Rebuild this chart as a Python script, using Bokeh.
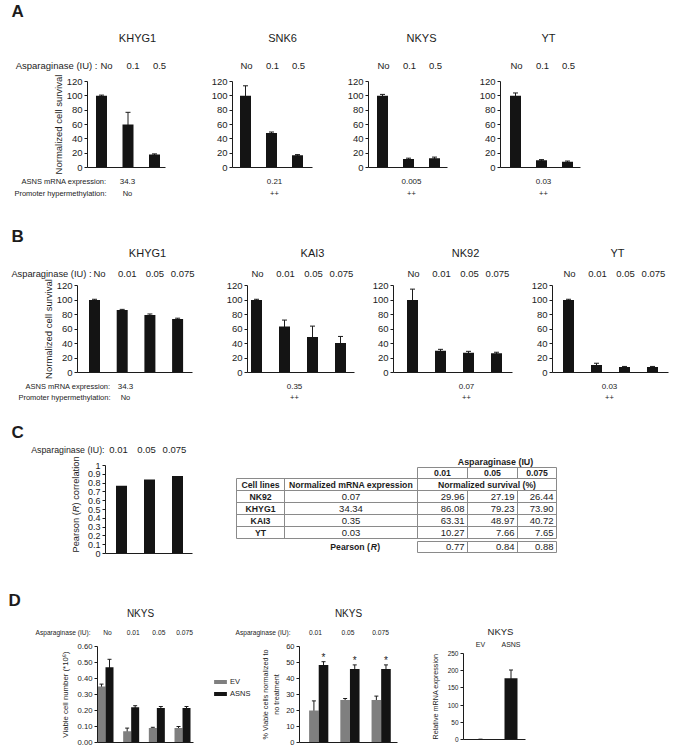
from math import pi
from bokeh.plotting import figure
from bokeh.layouts import row, column
from bokeh.models import (Range1d, LinearAxis, FixedTicker, Whisker, TeeHead,
                          ColumnDataSource, NumeralTickFormatter, Legend, LegendItem)
from bokeh.core.properties import value
from bokeh.embed import file_html
from bokeh.resources import INLINE

# ---------------- data ----------------
doses_A = ["No", "0.1", "0.5"]
titles_A = ["KHYG1", "SNK6", "NKYS", "YT"]
surv_A_khyg1 = [100, 60, 18]
surv_A_snk6 = [100, 48, 17]
surv_A_nkys = [100, 12, 13]
surv_A_yt = [100, 10, 8]
err_A_khyg1 = [1, 17, 1]
err_A_snk6 = [14, 1.5, 1]
err_A_nkys = [2, 1, 1.5]
err_A_yt = [4, 1, 1]
asns_A = ["34.3", "0.21", "0.005", "0.03"]
meth_A = ["No", "++", "++", "++"]

doses_B = ["No", "0.01", "0.05", "0.075"]
titles_B = ["KHYG1", "KAI3", "NK92", "YT"]
surv_B_khyg1 = [100, 86.08, 79.23, 73.90]
surv_B_kai3 = [100, 63.31, 48.97, 40.72]
surv_B_nk92 = [100, 29.96, 27.19, 26.44]
surv_B_yt = [100, 10.27, 7.66, 7.65]
err_B_khyg1 = [1, 1, 1.5, 1]
err_B_kai3 = [1, 9, 15, 9]
err_B_nk92 = [15, 2, 2, 1.5]
err_B_yt = [1, 2.5, 0.7, 0.7]
asns_B = ["34.3", "0.35", "0.07", "0.03"]
meth_B = ["No", "++", "++", "++"]
surv_ticks = [0, 20, 40, 60, 80, 100, 120]

doses_C = ["0.01", "0.05", "0.075"]
pearson_r = [0.77, 0.84, 0.88]
pearson_ticks = [0, 0.1, 0.2, 0.3, 0.4, 0.5, 0.6, 0.7, 0.8, 0.9, 1.0]

tbl_cells = ["NK92", "KHYG1", "KAI3", "YT"]
tbl_mrna = ["0.07", "34.34", "0.35", "0.03"]
tbl_s001 = ["29.96", "86.08", "63.31", "10.27"]
tbl_s005 = ["27.19", "79.23", "48.97", "7.66"]
tbl_s0075 = ["26.44", "73.90", "40.72", "7.65"]
tbl_pearson = ["0.77", "0.84", "0.88"]

doses_D1 = ["No", "0.01", "0.05", "0.075"]
ev_count = [0.35, 0.07, 0.09, 0.09]
ev_count_err = [0.015, 0.02, 0.005, 0.01]
asns_count = [0.47, 0.22, 0.215, 0.215]
asns_count_err = [0.05, 0.01, 0.01, 0.01]
count_ticks = [0.0, 0.1, 0.2, 0.3, 0.4, 0.5, 0.6]

doses_D2 = ["0.01", "0.05", "0.075"]
ev_pct = [20, 26.5, 26.5]
ev_pct_err = [6, 1, 2.5]
asns_pct = [48.5, 46, 46]
asns_pct_err = [2, 2.5, 2.5]
sig_D2 = ["*", "*", "*"]
pct_ticks = [0, 10, 20, 30, 40, 50, 60]

groups_D3 = ["EV", "ASNS"]
rel_mrna = [0.5, 178]
rel_mrna_err = [0, 24]
mrna_ticks = [0, 50, 100, 150, 200, 250]

# ---------------- styling / helpers ----------------
FONT = "Liberation Sans"
TXT = "#1c1c1c"
AXC = "#1c1c1c"
BLACK = "#141414"
GRAY = "#7f7f7f"
TOTAL_W = 672


def mkfig(box, frame, xlim, ylim):
    x0, y0, x1, y1 = box
    fx0, fy0, fx1, fy1 = frame
    p = figure(width=x1 - x0, height=y1 - y0,
               min_border_left=fx0 - x0, min_border_right=x1 - fx1,
               min_border_top=fy0 - y0, min_border_bottom=y1 - fy1,
               x_range=Range1d(*xlim), y_range=Range1d(*ylim),
               x_axis_location=None, y_axis_location=None, title_location=None,
               output_backend="svg", toolbar_location=None)
    p.outline_line_color = None
    p.background_fill_color = "white"
    p.border_fill_color = "white"
    p.grid.grid_line_color = None
    return p


def strip(x0, y0, x1, y1):
    """A text-only figure whose data coordinates are page pixels."""
    return mkfig((x0, y0, x1, y1), (x0, y0, x1, y1), (x0, x1), (y1, y0))


def txt(p, xs, ys, texts, size, align="center", style="normal", angle=0.0):
    p.text(x=list(xs), y=list(ys), text=list(texts), text_font=value(FONT),
           text_font_size=value(f"{size}px"), text_font_style=style, text_align=align,
           text_baseline="middle", text_color=TXT, angle=angle)


def bar_fig(box, frame, c0, step, ylim):
    fl = frame[0]
    fr = frame[2]
    return mkfig(box, frame, ((fl - c0) / step, (fr - c0) / step), ylim)


def yaxis(p, ticks, size, label=None, label_size=9.5, standoff=0, fmt=None, bounds=None):
    ax = LinearAxis(ticker=FixedTicker(ticks=ticks))
    ax.major_tick_in = 0
    ax.major_tick_out = 3
    ax.minor_tick_line_color = None
    ax.major_label_standoff = 2
    ax.major_label_text_font = FONT
    ax.major_label_text_font_size = f"{size}px"
    ax.major_label_text_color = TXT
    ax.axis_line_color = AXC
    ax.major_tick_line_color = AXC
    if bounds is not None:
        ax.bounds = bounds
    if label is not None:
        ax.axis_label = label
        ax.axis_label_text_font = FONT
        ax.axis_label_text_font_style = "normal"
        ax.axis_label_text_font_size = f"{label_size}px"
        ax.axis_label_text_color = TXT
        ax.axis_label_standoff = standoff
    if fmt is not None:
        ax.formatter = fmt
    p.add_layout(ax, "left")


def xaxis(p, bounds=None):
    ax = LinearAxis(ticker=FixedTicker(ticks=[]))
    ax.major_tick_line_color = None
    ax.minor_tick_line_color = None
    ax.major_label_text_font_size = "0px"
    ax.major_label_standoff = 0
    ax.axis_line_color = AXC
    if bounds is not None:
        ax.bounds = bounds
    p.add_layout(ax, "below")


def bars(p, xs, tops, width, color):
    src = ColumnDataSource(dict(x=xs, top=tops))
    return p.vbar(x="x", top="top", width=width, source=src, fill_color=color, line_color=None)


def errs(p, xs, tops, es, color="#1c1c1c", head=5):
    src = ColumnDataSource(dict(x=xs, upper=[t + e for t, e in zip(tops, es)],
                                lower=[t - e for t, e in zip(tops, es)]))
    w = Whisker(source=src, base="x", upper="upper", lower="lower",
                line_color=color, line_width=1,
                upper_head=TeeHead(size=head, line_color=color, line_width=1),
                lower_head=TeeHead(size=head, line_color=color, line_width=1))
    p.add_layout(w)


# ---------------- Panel A ----------------
# box left, box right, frame left, frame right, first bar x, bar step, title x, value x, label shift
A_geo = [
    (0, 200, 87, 165, 101, 26.5, 137, 127, 5),
    (200, 338, 232, 312, 245, 26, 282, 274, 1),
    (338, 470, 368, 447, 382, 26, 421, 411, 1),
    (470, TOTAL_W, 500, 580, 515, 26, 548, 543, 1),
]
A_vals = [(surv_A_khyg1, err_A_khyg1), (surv_A_snk6, err_A_snk6),
          (surv_A_nkys, err_A_nkys), (surv_A_yt, err_A_yt)]

sA = strip(0, 0, TOTAL_W, 73)
txt(sA, [11], [11], ["A"], 17, align="left", style="bold")
txt(sA, [g[6] for g in A_geo], [37] * 4, titles_A, 11)
txt(sA, [97], [65], ["Asparaginase (IU) :"], 9.5, align="right")
rowA = []
for k, (g, (vals, es)) in enumerate(zip(A_geo, A_vals)):
    bl, br, fl, fr, c0, st, tx, vx, sh = g
    p = bar_fig((bl, 73, br, 175), (fl, 81, fr, 167), c0, st, (0, 120))
    xs = list(range(len(doses_A)))
    bars(p, xs, vals, 11 / st, BLACK)
    errs(p, xs, vals, es)
    yaxis(p, surv_ticks, 9.5, label="Normalized cell survival" if k == 0 else None, standoff=0)
    xaxis(p)
    txt(sA, [c0 + sh + i * st for i in xs], [65] * len(xs), doses_A, 9.5)
    rowA.append(p)
sA2 = strip(0, 175, TOTAL_W, 205)
txt(sA2, [106, 106], [181, 193], ["ASNS mRNA expression:", "Promoter hypermethylation:"], 7.5, align="right")
txt(sA2, [g[7] for g in A_geo], [181] * 4, asns_A, 8)
txt(sA2, [g[7] for g in A_geo], [193] * 4, meth_A, 7.5)

# ---------------- Panel B ----------------
B_geo = [
    (0, 220, 77, 192, 94, 27.7, 147, 125, 5),
    (220, 366, 247, 354, 256, 28, 312, 294, 1),
    (366, 527, 393, 512, 412, 28, 465, 466, 1),
    (527, TOTAL_W, 552, 668, 568, 28, 617, 609, 1),
]
B_vals = [(surv_B_khyg1, err_B_khyg1), (surv_B_kai3, err_B_kai3),
          (surv_B_nk92, err_B_nk92), (surv_B_yt, err_B_yt)]
sB = strip(0, 205, TOTAL_W, 279)
txt(sB, [11], [236], ["B"], 17, align="left", style="bold")
txt(sB, [g[6] for g in B_geo], [252] * 4, titles_B, 11)
txt(sB, [91], [273], ["Asparaginase (IU) :"], 9.3, align="right")
rowB = []
for k, (g, (vals, es)) in enumerate(zip(B_geo, B_vals)):
    bl, br, fl, fr, c0, st, tx, vx, sh = g
    p = bar_fig((bl, 279, br, 379), (fl, 285, fr, 372), c0, st, (0, 120))
    xs = list(range(len(doses_B)))
    bars(p, xs, vals, 11 / st, BLACK)
    errs(p, xs, vals, es)
    yaxis(p, surv_ticks, 9.5, label="Normalized cell survival" if k == 0 else None, standoff=0)
    xaxis(p)
    txt(sB, [c0 + sh + i * st for i in xs], [273] * len(xs), doses_B, 9.5)
    rowB.append(p)
sB2 = strip(0, 379, TOTAL_W, 405)
txt(sB2, [110, 110], [386, 397], ["ASNS mRNA expression:", "Promoter hypermethylation:"], 7.5, align="right")
txt(sB2, [g[7] for g in B_geo], [386] * 4, asns_B, 8)
txt(sB2, [g[7] for g in B_geo], [397] * 4, meth_B, 7.5)

# ---------------- Panel C ----------------
CT = 455  # top of the C chart/table row
sC = strip(0, 405, TOTAL_W, CT)
txt(sC, [11], [432], ["C"], 17, align="left", style="bold")
txt(sC, [104], [449], ["Asparaginase (IU):"], 8.8, align="right")
c0C, stC = 121, 28
txt(sC, [c0C - 3 + i * stC for i in range(len(doses_C))], [449] * len(doses_C), doses_C, 9.5)

# rotated y label (with italic R) in its own narrow strip
cl = mkfig((0, CT, 82, 568), (0, CT, 82, 553), (0, 82), (553, CT))
lx = 75
txt(cl, [lx], [552], ["Pearson ("], 9.3, align="left", angle=pi / 2)
txt(cl, [lx], [552 - 40.3], ["R"], 9.3, align="left", style="italic", angle=pi / 2)
txt(cl, [lx], [552 - 47.0], [") correlation"], 9.3, align="left", angle=pi / 2)

# bar chart (frame extended upward; axis line bounded to 0..1)
ytop = 1 + (465 - CT) / 88.0
pc = bar_fig((82, CT, 215, 568), (105, CT, 192, 553), c0C, stC, (0, ytop))
xs = list(range(len(doses_C)))
bars(pc, xs, pearson_r, 11 / stC, BLACK)
yaxis(pc, pearson_ticks, 9, fmt=NumeralTickFormatter(format="0.[0]"), bounds=(0, 1))
xaxis(pc)

# table
tp = mkfig((215, CT, TOTAL_W, 568), (215, CT, TOTAL_W, 553), (215, TOTAL_W), (553, CT))
cx = [236, 284, 417, 467, 517, 556]
ry = [478, 490, 502, 514, 526, 538]
d_top, d_bot = 467, 478
p_top, p_bot = 541, 552
segs = []
segs += [(cx[2], d_top, cx[5], d_top)]
segs += [(x, d_top, x, d_bot) for x in cx[2:]]
segs += [(cx[0], y, cx[5], y) for y in ry]
segs += [(x, ry[0], x, ry[-1]) for x in (cx[0], cx[1], cx[2], cx[5])]
segs += [(x, ry[1], x, ry[-1]) for x in (cx[3], cx[4])]
segs += [(cx[2], p_top, cx[5], p_top), (cx[2], p_bot, cx[5], p_bot)]
segs += [(x, p_top, x, p_bot) for x in cx[2:]]
tp.segment(x0=[s[0] for s in segs], y0=[s[1] for s in segs],
           x1=[s[2] for s in segs], y1=[s[3] for s in segs],
           line_color="#8a8a8a", line_width=1)
rc = [(ry[i] + ry[i + 1]) / 2 for i in range(len(ry) - 1)]
colc = [(cx[i] + cx[i + 1]) / 2 for i in range(len(cx) - 1)]
txt(tp, [495], [461], ["Asparaginase (IU)"], 8.9, style="bold")
txt(tp, colc[2:], [(d_top + d_bot) / 2] * 3, doses_C, 8.7, style="bold")
txt(tp, [colc[0], colc[1], (cx[2] + cx[5]) / 2], [rc[0]] * 3,
    ["Cell lines", "Normalized mRNA expression", "Normalized survival (%)"], 8.7, style="bold")
txt(tp, [colc[0]] * len(tbl_cells), rc[1:], tbl_cells, 8.7, style="bold")
txt(tp, [colc[1]] * len(tbl_mrna), rc[1:], tbl_mrna, 9.5)
for j, col in enumerate([tbl_s001, tbl_s005, tbl_s0075]):
    txt(tp, [cx[3 + j] - 3] * len(col), rc[1:], col, 9.5, align="right")
txt(tp, [cx[3 + j] - 3 for j in range(3)], [(p_top + p_bot) / 2] * 3, tbl_pearson, 9.5, align="right")
ps = 355 - 25.2
pm = (p_top + p_bot) / 2
txt(tp, [ps], [pm], ["Pearson ("], 8.7, align="left", style="bold")
txt(tp, [ps + 40.5], [pm], ["R"], 8.7, align="left", style="bold italic")
txt(tp, [ps + 47], [pm], [")"], 8.7, align="left", style="bold")

# ---------------- Panel D ----------------
sD = strip(0, 568, 415, 640)
txt(sD, [8], [600], ["D"], 17, align="left", style="bold")
txt(sD, [140, 348], [613, 613], ["NKYS", "NKYS"], 10)
txt(sD, [90, 290], [632, 632], ["Asparaginase (IU):", "Asparaginase (IU):"], 6.6, align="right")

# D1: viable cell number (frame widened to hold the legend; axis line bounded)
c01, st1 = 105, 25.67
p1 = bar_fig((0, 640, 258, 749), (97, 646, 255, 742), c01, st1, (0, 0.6))
hw = 4 / st1
gx = list(range(len(doses_D1)))
r_ev = bars(p1, [i - hw for i in gx], ev_count, 8 / st1, GRAY)
r_as = bars(p1, [i + hw for i in gx], asns_count, 8 / st1, BLACK)
errs(p1, [i - hw for i in gx], ev_count, ev_count_err, head=4)
errs(p1, [i + hw for i in gx], asns_count, asns_count_err, head=4)
yaxis(p1, count_ticks, 7.7, label="Viable cell number (*10\u2076)", label_size=7.8, standoff=5,
      fmt=NumeralTickFormatter(format="0.00"))
xaxis(p1, bounds=((97 - c01) / st1, (193 - c01) / st1))
txt(sD, [c01 + 2 + i * st1 for i in gx], [632] * len(gx), doses_D1, 6.7)
leg = Legend(items=[LegendItem(label="EV", renderers=[r_ev]), LegendItem(label="ASNS", renderers=[r_as])],
             location=(212 - 97, 742 - 698), orientation="vertical",
             glyph_width=16, glyph_height=5, label_height=8, label_width=10,
             spacing=3, padding=0, margin=0, label_standoff=2,
             border_line_color=None, background_fill_alpha=0,
             label_text_font=FONT, label_text_font_size="7.5px", label_text_color=TXT)
p1.add_layout(leg)

# D2: % viable normalized
c02, st2 = 315, 32.5
p2 = bar_fig((258, 640, 415, 749), (295, 646, 397, 742), c02, st2, (0, 60))
hw2 = 5 / st2
gx2 = list(range(len(doses_D2)))
bars(p2, [i - hw2 for i in gx2], ev_pct, 10 / st2, GRAY)
bars(p2, [i + hw2 for i in gx2], asns_pct, 10 / st2, BLACK)
errs(p2, [i - hw2 for i in gx2], ev_pct, ev_pct_err, head=4)
errs(p2, [i + hw2 for i in gx2], asns_pct, asns_pct_err, head=4)
p2.text(x=[i + hw2 for i in gx2], y=[a + e + 2.5 for a, e in zip(asns_pct, asns_pct_err)], text=sig_D2,
        text_font=value(FONT), text_font_size=value("10px"), text_align="center",
        text_baseline="middle", text_color=TXT)
yaxis(p2, pct_ticks, 7.5, label="% Viable cells normalized to\nno treatment", label_size=7.2, standoff=2)
xaxis(p2)
txt(sD, [c02 + i * st2 for i in gx2], [632] * len(gx2), doses_D2, 6.7)

# D3: relative mRNA (title strip shares the chart's frame columns)
c03, st3 = 480, 30.5
sD3 = mkfig((415, 568, TOTAL_W, 649), (463, 568, 525, 649), (463, 525), (649, 568))
txt(sD3, [500], [631], ["NKYS"], 9.5)
txt(sD3, [c03 + i * st3 for i in range(len(groups_D3))], [644] * len(groups_D3), groups_D3, 7)
p3 = bar_fig((415, 649, TOTAL_W, 749), (463, 653, 525, 739), c03, st3, (0, 250))
gx3 = list(range(len(groups_D3)))
bars(p3, gx3, rel_mrna, 13 / st3, BLACK)
errs(p3, gx3, rel_mrna, rel_mrna_err, head=4)
yaxis(p3, mrna_ticks, 6.5, label="Relative mRNA expression", label_size=7.2, standoff=5)
xaxis(p3)

layout = column(
    sA, row(*rowA), sA2,
    sB, row(*rowB), sB2,
    sC, row(cl, pc, tp),
    row(column(sD, row(p1, p2)), column(sD3, p3)),
)
open("out.html", "w").write(file_html(layout, INLINE, title="Asparaginase"))
